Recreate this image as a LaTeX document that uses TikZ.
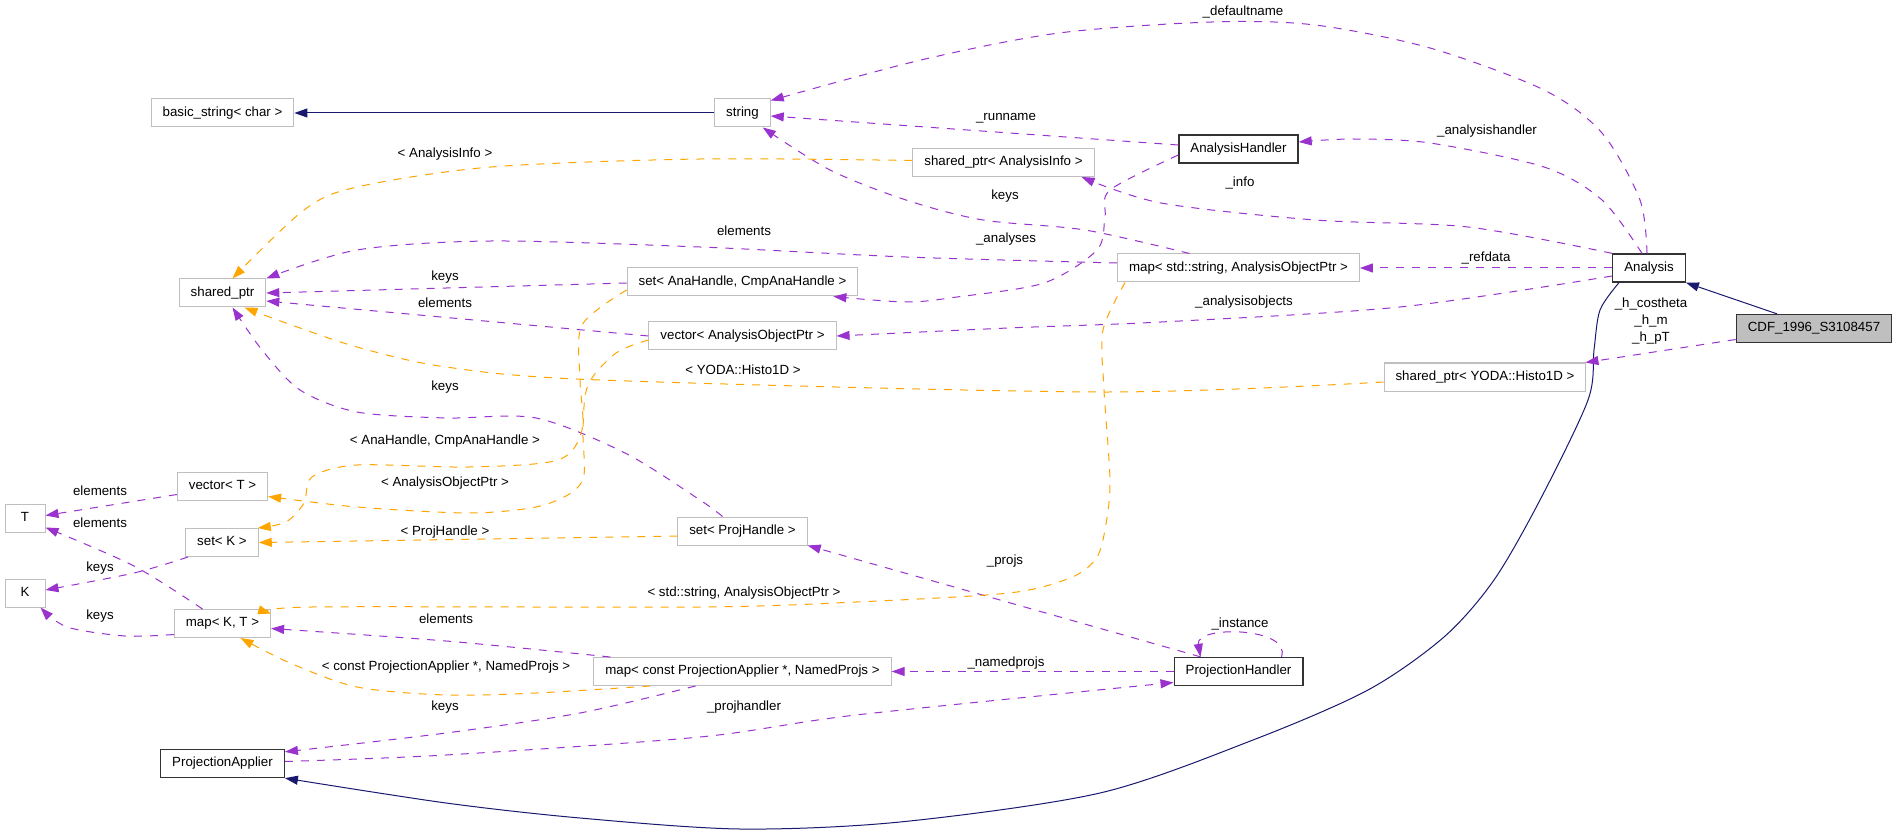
\documentclass[tikz,border=0pt]{standalone}
\usepackage{fontspec}
\setmainfont{Liberation Sans}
\usetikzlibrary{arrows.meta}
\definecolor{purp}{RGB}{154,50,205}
\definecolor{orng}{RGB}{255,165,0}
\definecolor{navy}{RGB}{25,25,112}
\definecolor{gry}{RGB}{191,191,191}
\begin{document}
\begin{tikzpicture}[x=1pt,y=-1pt,
  every node/.style={font=\fontsize{13.3}{17}\selectfont},
  cbox/.style={draw=gry, line width=1pt, inner xsep=11.5pt, inner ysep=0pt, minimum height=28pt, text height=9.6pt, text depth=2.7pt, fill=white},
  dbox/.style={cbox, draw=black!80, line width=1.3pt},
  usage/.style={draw=purp, line width=1pt, dash pattern=on 8pt off 8pt, -{Triangle[length=13pt,width=9pt]}},
  tmpl/.style={usage, draw=orng},
  inh/.style={draw=navy, line width=1pt, -{Triangle[length=13pt,width=9pt]}},
  lbl/.style={inner sep=0pt, text height=9.6pt, text depth=2.7pt},
]
\fill[white] (0,0) rectangle (1896,834);
\useasboundingbox (0,0) rectangle (1896,834);

% nodes
\node[cbox] (bstr) at (222.5,113) {basic\_string< char >};
\node[cbox] (str) at (742.5,113) {string};
\node[dbox] (ah) at (1238.5,149) {AnalysisHandler};
\node[cbox] (spinfo) at (1003.5,162.5) {shared\_ptr< AnalysisInfo >};
\node[cbox] (mapss) at (1238.5,268) {map< std::string, AnalysisObjectPtr >};
\node[cbox] (setana) at (742.5,282) {set< AnaHandle, CmpAnaHandle >};
\node[cbox] (sp) at (222.5,293) {shared\_ptr};
\node[cbox] (vecaop) at (742.5,336) {vector< AnalysisObjectPtr >};
\node[dbox] (ana) at (1649,268) {Analysis};
\node[dbox, fill=gry] (cdf) at (1814,328.5) {CDF\_1996\_S3108457};
\node[cbox] (spyoda) at (1485,377) {shared\_ptr< YODA::Histo1D >};
\node[cbox] (vecT) at (222.5,486.5) {vector< T >};
\node[cbox, minimum width=40pt] (T) at (25,518.5) {T};
\node[cbox] (setK) at (222,542.5) {set< K >};
\node[cbox] (setph) at (742.5,531) {set< ProjHandle >};
\node[cbox, minimum width=40pt] (K) at (25,593) {K};
\node[cbox] (mapKT) at (222.5,623.5) {map< K, T >};
\node[cbox] (mapPA) at (742.5,671.5) {map< const ProjectionApplier *, NamedProjs >};
\node[dbox] (ph) at (1238.5,671.5) {ProjectionHandler};
\node[dbox] (pa) at (222.5,763.5) {ProjectionApplier};

% labels
\node[lbl] (l1) at (1243,12) {\_defaultname};
\node[lbl] (l2) at (1006,117) {\_runname};
\node[lbl] (l3) at (1487,131) {\_analysishandler};
\node[lbl] (l4) at (1240,183) {\_info};
\node[lbl] (l5) at (445,154) {< AnalysisInfo >};
\node[lbl] (l6) at (1005,196) {keys};
\node[lbl] (l7) at (744,232) {elements};
\node[lbl] (l8) at (1006,239) {\_analyses};
\node[lbl] (l9) at (1486,258) {\_refdata};
\node[lbl] (l10) at (1244,302) {\_analysisobjects};
\node[lbl] (l11) at (445,277) {keys};
\node[lbl] (l12) at (445,304) {elements};
\node[lbl] (l13) at (743,371) {< YODA::Histo1D >};
\node[inner sep=0pt, align=center] (l14) at (1651,321) {\_h\_costheta\\\_h\_m\\\_h\_pT};
\node[lbl] (l15) at (445,387) {keys};
\node[lbl] (l16) at (445,441) {< AnaHandle, CmpAnaHandle >};
\node[lbl] (l17) at (445,483) {< AnalysisObjectPtr >};
\node[lbl] (l18) at (100,492) {elements};
\node[lbl] (l19) at (100,524) {elements};
\node[lbl] (l20) at (445,532) {< ProjHandle >};
\node[lbl] (l21) at (1005,561) {\_projs};
\node[lbl] (l22) at (100,568) {keys};
\node[lbl] (l23) at (744,593) {< std::string, AnalysisObjectPtr >};
\node[lbl] (l24) at (100,616) {keys};
\node[lbl] (l25) at (446,620) {elements};
\node[lbl] (l26) at (1240,624) {\_instance};
\node[lbl] (l27) at (1006,663) {\_namedprojs};
\node[lbl] (l28) at (446,667) {< const ProjectionApplier *, NamedProjs >};
\node[lbl] (l29) at (445,707) {keys};
\node[lbl] (l30) at (744,707) {\_projhandler};

% inheritance
\draw[inh] (str.west) -- (bstr.east);
\draw[inh] ([xshift=-37pt]cdf.north) -- (ana.south east);
\draw[inh] plot[smooth] coordinates {([xshift=-30pt]ana.south) (1600,310) (1594,350) (1588,400) (1540,500) (1494,580) (1444,637) (1368,690) (1253,740) (1100,793) (900,822) (740,829) (580,818) (446,803) (pa.south east)};

% usage
\draw[usage] plot[smooth] coordinates {([xshift=-2pt]ana.north) (1640,200) (1602,133) (1544,90) (1430,48) (1315,25) (1212,22) (1059,33) (921,60) ([yshift=-2pt]str.north east)};
\draw[usage] ([yshift=4pt]ah.west) -- ([yshift=-3pt]str.east);
\draw[usage] plot[smooth] coordinates {([xshift=-7pt]ana.north) (1602,200) (1544,167) (1430,143) (1353,139) ([yshift=7pt]ah.east)};
\draw[usage] plot[smooth] coordinates {(ana.north west) (1468,227) (1315,220) (1161,203) ([xshift=-13pt]spinfo.south east)};
\draw[usage] plot[smooth] coordinates {([xshift=-49pt]mapss.north) (1085,230) (983,220) (906,200) (830,170) ([xshift=-8pt]str.south east)};
\draw[usage] plot[smooth] coordinates {([yshift=5pt]mapss.west) (906,257) (700,247) (491,241) (357,250) (sp.north east)};
\draw[usage] plot[smooth] coordinates {([yshift=-6pt]ah.west) (1110,190) (1105,217) (1097,250) (1044,283) (957,297) (906,302) ([xshift=-25pt]setana.south east)};
\draw[usage] (ana.west) -- (mapss.east);
\draw[usage] plot[smooth] coordinates {([yshift=-8pt]ana.west) (1400,307) (1161,322) (1008,328) (vecaop.east)};
\draw[usage] ([yshift=-1pt]setana.west) -- (sp.east);
\draw[usage] (vecaop.west) -- ([yshift=-8pt]sp.east);
\draw[usage] ([yshift=-11pt]cdf.west) -- ([xshift=-1pt]spyoda.north east);
\draw[usage] plot[smooth] coordinates {([xshift=-20pt]setph.north) (700,500) (625,453) (536,418) (446,418) (357,412) (300,390) (262,350) ([xshift=10pt]sp.south)};
\draw[usage] ([yshift=-8pt]vecT.west) -- ([yshift=3pt]T.east);
\draw[usage] plot[smooth] coordinates {([xshift=-20pt]mapKT.north) (134,566) ([yshift=-9pt]T.east)};
\draw[usage] plot[smooth] coordinates {([xshift=-34pt]setK.south) (134,573) ([yshift=3pt]K.east)};
\draw[usage] plot[smooth] coordinates {([yshift=-11pt]mapKT.west) (125,636) (67,627) ([xshift=-5pt]K.south east)};
\draw[usage] plot[smooth] coordinates {([xshift=17pt]mapPA.north west) (446,641) ([yshift=-5pt]mapKT.east)};
\draw[usage] plot[smooth] coordinates {([xshift=-47pt]mapPA.south) (580,713) (446,733) ([yshift=-3pt]pa.north east)};
\draw[usage] plot[smooth] coordinates {([yshift=2pt]pa.east) (446,755) (700,737) (856,715) ([yshift=-11pt]ph.west)};
\draw[usage] (ph.west) -- (mapPA.east);
\draw[usage] ([xshift=-38pt]ph.north) -- (setph.south east);
\draw[usage] ([xshift=43pt]ph.north) .. controls (1292,627) and (1195,625) .. ([xshift=-38pt]ph.north);

% template instances
\draw[tmpl] plot[smooth] coordinates {([yshift=2pt]spinfo.west) (700,159) (491,167) (357,187) (304,210) ([xshift=10pt]sp.north)};
\draw[tmpl] plot[smooth] coordinates {([yshift=-5pt]spyoda.west) (1101,392) (600,380) (446,367) (357,347) (286,323) ([xshift=22pt]sp.south)};
\draw[tmpl] plot[smooth] coordinates {([yshift=-8pt]setana.west) (582,325) (580,380) (582,430) (558,460) (469,467) (357,465) (312,477) (304,503) (286,522) ([xshift=-1pt]setK.north east)};
\draw[tmpl] plot[smooth] coordinates {([yshift=-4pt]vecaop.west) (616,353) (588,385) (583,430) (584,475) (571,493) (536,507) (469,513) (357,507) ([yshift=-10pt]vecT.east)};
\draw[tmpl] ([yshift=-5pt]setph.west) -- (setK.east);
\draw[tmpl] plot[smooth] coordinates {([xshift=8pt]mapss.south west) (1103,330) (1104,390) (1110,483) (1104,535) (1095,560) (1070,578) (1009,593) (856,602) (700,607) (312,607) ([yshift=10pt]mapKT.east)};
\draw[tmpl] plot[smooth] coordinates {([xshift=57pt]mapPA.south west) (536,693) (446,695) (357,687) (290,663) ([xshift=18pt]mapKT.south)};
\end{tikzpicture}
\end{document}
